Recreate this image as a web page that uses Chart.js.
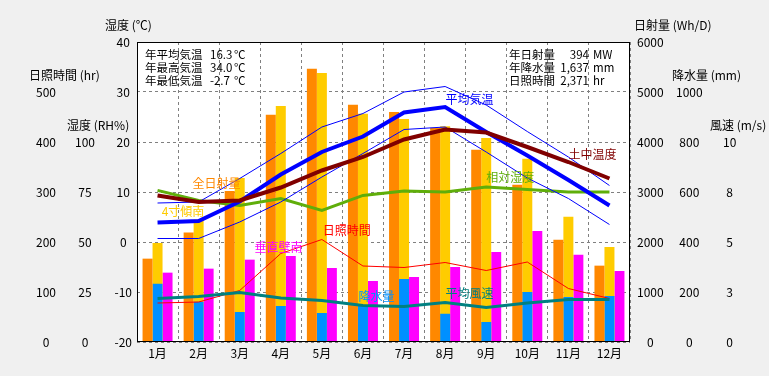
<!DOCTYPE html>
<html lang="ja">
<head>
<meta charset="utf-8">
<script src="https://cdn.jsdelivr.net/npm/chart.js@4.4.1/dist/chart.umd.min.js"></script>
<style>
html, body { margin: 0; padding: 0; background: #f0f0f0; }
canvas { display: block; }
</style>
</head>
<body>
<canvas id="climateChart" width="769" height="376"></canvas>
<script>
const months = ['1月', '2月', '3月', '4月', '5月', '6月', '7月', '8月', '9月', '10月', '11月', '12月'];

// 日射量 (Wh/D)
const globalSolar = [1667, 2190, 3020, 4547, 5467, 4747, 4600, 4287, 3847, 3147, 2047, 1527];
const tiltSouthSolar = [1980, 2450, 3280, 4720, 5380, 4567, 4460, 4313, 4080, 3667, 2507, 1900];
const wallSouthSolar = [1387, 1467, 1647, 1720, 1480, 1220, 1300, 1500, 1800, 2220, 1747, 1420];
// 降水量 (mm)
const precipitation = [233, 161, 120, 144, 116, 147, 252, 113, 80, 200, 180, 184];
// 気温 (℃)
const avgTemp = [3.9, 4.2, 8.1, 13.5, 18.0, 21.1, 25.9, 27.0, 22.0, 17.3, 12.4, 7.3];
const maxTemp = [7.8, 8.0, 12.7, 17.7, 23.0, 25.7, 30.0, 31.1, 27.4, 22.1, 17.0, 11.3];
const minTemp = [0.7, 0.7, 4.0, 8.0, 13.0, 17.7, 22.5, 23.0, 18.0, 12.8, 8.7, 3.5];
const soilTemp = [9.3, 8.0, 8.3, 10.9, 14.3, 17.0, 20.5, 22.5, 21.9, 19.0, 16.0, 12.7];
// 相対湿度 (RH%)
const humidity = [75.8, 70.8, 68.3, 71.7, 65.8, 73.3, 75.5, 75.0, 77.5, 76.3, 75.0, 75.0];
// 日照時間 (hr)
const sunshine = [78, 80, 103, 177, 205, 152, 149, 159, 143, 160, 107, 87];
// 平均風速 (m/s)
const windSpeed = [2.17, 2.28, 2.47, 2.2, 2.08, 1.83, 1.78, 1.97, 1.72, 1.95, 2.12, 2.12];

// tick values / labels
const hrTicks = [0, 100, 200, 300, 400, 500];
const rhTicks = [0, 25, 50, 75, 100];
const tempTicks = [-20, -10, 0, 10, 20, 30, 40];
const solarTicks = [0, 1000, 2000, 3000, 4000, 5000, 6000];
const rainTicks = [0, 200, 400, 600, 800, 1000];
const windTicks = [0, 2.5, 5, 7.5, 10];
const windTickLabels = ['0', '3', '5', '8', '10'];

const statsLeft = [['年平均気温', '16.3', '℃'], ['年最高気温', '34.0', '℃'], ['年最低気温', '-2.7', '℃']];
const statsRight = [['年日射量', '394', 'MW'], ['年降水量', '1,637', 'mm'], ['日照時間', '2,371', 'hr']];

const axisTitles = [
    { axis: 'yHr', text: '日照時間 (hr)', at: 500, dx: 29 },
    { axis: 'yRh', text: '湿度 (RH%)', at: 100, dx: 1 },
    { axis: 'yTemp', text: '湿度 (℃)', at: 40, dx: 1 },
    { axis: 'ySolar', text: '日射量 (Wh/D)', at: 6000, dx: 4 },
    { axis: 'yRain', text: '降水量 (mm)', at: 1000, dx: 2 },
    { axis: 'yWind', text: '風速 (m/s)', at: 10, dx: 0 }
];

// in-chart series names: pos = month index, at = ℃ scale value
const seriesLabels = [
    { text: '平均気温', color: '#0000ff', pos: 7.01, at: 28.6 },
    { text: '土中温度', color: '#800000', pos: 10.0, at: 17.6 },
    { text: '相対湿度', color: '#5fae0a', pos: 8.0, at: 12.9 },
    { text: '全日射量', color: '#ff8800', pos: 0.85, at: 11.8 },
    { text: '4寸傾南', color: '#ffcc00', pos: 0.1, at: 6.2 },
    { text: '垂直壁南', color: '#ff00ff', pos: 2.36, at: -1.1 },
    { text: '日照時間', color: '#ff0000', pos: 4.02, at: 2.4 },
    { text: '降水量', color: '#0090ff', pos: 4.89, at: -10.9 },
    { text: '平均風速', color: '#008080', pos: 7.01, at: -10.3 }
];

const FONT = "12px 'Noto Sans CJK JP', sans-serif";
const STATS_FONT = "11.5px 'Noto Sans CJK JP', sans-serif";
Chart.defaults.font.family = "'Noto Sans CJK JP', sans-serif";
Chart.defaults.font.size = 12;
Chart.defaults.color = '#000';

const sideAxis = (position, weight, width, min, max, ticks, padding, labels) => ({
    type: 'linear',
    position,
    weight,
    min,
    max,
    grid: { display: false, drawTicks: false },
    border: { display: false },
    ticks: {
        padding,
        crossAlign: 'center',
        autoSkip: false,
        callback: (value, index) => labels ? labels[index] : String(value)
    },
    afterBuildTicks: (scale) => { scale.ticks = ticks.map((v) => ({ value: v })); },
    afterFit: (scale) => { scale.width = width; }
});

const framePlugin = {
    id: 'frame',
    beforeDraw(chart) {
        const { ctx, chartArea: a } = chart;
        ctx.save();
        ctx.fillStyle = '#fff';
        ctx.fillRect(a.left, a.top, a.right - a.left, a.bottom - a.top);
        ctx.restore();
    },
    afterDraw(chart) {
        const { ctx, chartArea: a, scales } = chart;
        ctx.save();
        ctx.strokeStyle = '#000';
        ctx.lineWidth = 1;
        ctx.strokeRect(Math.round(a.left) + 0.5, Math.round(a.top) + 0.5,
            Math.round(a.right - a.left) - 1, Math.round(a.bottom - a.top) - 1);

        ctx.font = FONT;
        ctx.textBaseline = 'middle';
        ctx.textAlign = 'left';
        ctx.fillStyle = '#000';
        axisTitles.forEach((t) => {
            const s = scales[t.axis];
            ctx.fillText(t.text, s.left + t.dx, s.getPixelForValue(t.at) - 17);
        });

        const xs = scales.x;
        const step = xs.getPixelForValue(1) - xs.getPixelForValue(0);
        seriesLabels.forEach((l) => {
            ctx.fillStyle = l.color;
            ctx.fillText(l.text, xs.getPixelForValue(0) + l.pos * step, scales.yTemp.getPixelForValue(l.at));
        });

        ctx.font = STATS_FONT;
        ctx.fillStyle = '#000';
        statsLeft.forEach((row, i) => {
            const y = a.top + 13 + i * 12.7;
            ctx.textAlign = 'left';
            ctx.fillText(row[0], a.left + 8, y);
            ctx.fillText(row[1], a.left + 73, y);
            ctx.fillText(row[2], a.left + 97, y);
        });
        statsRight.forEach((row, i) => {
            const y = a.top + 13 + i * 12.7;
            ctx.textAlign = 'left';
            ctx.fillText(row[0], a.right - 121, y);
            ctx.fillText(row[2], a.right - 37, y);
            ctx.textAlign = 'right';
            ctx.fillText(row[1], a.right - 41, y);
        });
        ctx.restore();
    }
};

const lineSet = (label, data, axis, color, width) => ({
    type: 'line',
    label,
    data,
    yAxisID: axis,
    borderColor: color,
    backgroundColor: color,
    borderWidth: width,
    pointRadius: 0,
    tension: 0,
    fill: false
});

new Chart(document.getElementById('climateChart'), {
    type: 'bar',
    data: {
        labels: months,
        datasets: [
            lineSet('土中温度', soilTemp, 'yTemp', '#800000', 4),
            lineSet('平均気温', avgTemp, 'yTemp', '#0000ff', 4),
            lineSet('平均最高気温', maxTemp, 'yTemp', '#0000ff', 1),
            lineSet('平均最低気温', minTemp, 'yTemp', '#0000ff', 1),
            lineSet('相対湿度', humidity, 'yRh', '#5fae0a', 3),
            lineSet('平均風速', windSpeed, 'yWind', '#008080', 3),
            lineSet('日照時間', sunshine, 'yHr', '#ff0000', 1),
            { label: '全日射量', data: globalSolar, yAxisID: 'ySolar', stack: 'a', backgroundColor: '#ff8800' },
            { label: '降水量', data: precipitation, yAxisID: 'yRain', stack: 'b', backgroundColor: '#0090ff' },
            { label: '4寸傾南', data: tiltSouthSolar, yAxisID: 'ySolar', stack: 'b', backgroundColor: '#ffcc00' },
            { label: '垂直壁南', data: wallSouthSolar, yAxisID: 'ySolar', stack: 'c', backgroundColor: '#ff00ff' }
        ]
    },
    options: {
        responsive: false,
        animation: false,
        layout: { padding: { top: 42, right: 0, bottom: 0, left: 0 } },
        datasets: { bar: { barPercentage: 1, categoryPercentage: 0.73, borderWidth: 0 } },
        plugins: { legend: { display: false }, tooltip: { enabled: false } },
        scales: {
            x: {
                type: 'category',
                offset: true,
                grid: { display: true, offset: true, color: '#808080', drawTicks: false },
                border: { display: false, dash: [3, 3] },
                ticks: { padding: 4, maxRotation: 0 },
                afterFit: (scale) => { scale.height = 34; }
            },
            yTemp: {
                type: 'linear',
                position: 'left',
                weight: 1,
                min: -20,
                max: 40,
                grid: { display: true, color: '#808080', drawTicks: false },
                border: { display: false, dash: [3, 3] },
                ticks: { padding: 5, crossAlign: 'center', autoSkip: false },
                afterBuildTicks: (scale) => { scale.ticks = tempTicks.map((v) => ({ value: v })); },
                afterFit: (scale) => { scale.width = 33; }
            },
            yRh: sideAxis('left', 2, 38, 0, 150, rhTicks, 9),
            yHr: sideAxis('left', 3, 66, 0, 600, hrTicks, 10),
            ySolar: sideAxis('right', 1, 40, 0, 6000, solarTicks, 7),
            yRain: sideAxis('right', 2, 40, 0, 1200, rainTicks, 6),
            yWind: sideAxis('right', 3, 59, 0, 15, windTicks, 13, windTickLabels)
        }
    },
    plugins: [framePlugin]
});
</script>
</body>
</html>
